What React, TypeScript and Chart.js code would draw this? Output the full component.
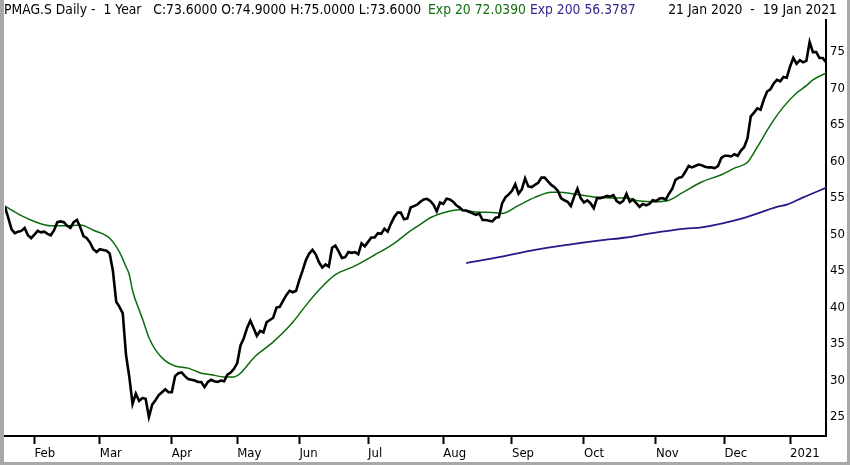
import React, { useEffect, useRef } from "react";
import { Chart, registerables } from "chart.js";

Chart.register(...registerables);

// Daily closes, 21 Jan 2020 .. 19 Jan 2021 (trading-day index 0..251)
const closePrices = [
  53.8, 52.3, 50.7, 50.2, 50.4, 50.5, 50.9, 49.9, 49.5, 50.0,
  50.5, 50.3, 50.4, 50.1, 49.9, 50.6, 51.7, 51.8, 51.7, 51.2,
  50.9, 51.7, 52.0, 51.0, 49.8, 49.5, 48.9, 48.0, 47.6, 48.0,
  47.9, 47.8, 47.4, 45.0, 40.8, 40.1, 39.2, 33.5, 30.5, 26.8,
  28.2, 27.2, 27.6, 27.5, 25.0, 26.7, 27.3, 28.0, 28.4, 28.8,
  28.4, 28.4, 30.6, 31.0, 31.1, 30.6, 30.2, 30.1, 30.0, 29.8,
  29.8, 29.1, 29.8, 30.1, 29.9, 29.8, 30.0, 29.9, 30.8, 31.1,
  31.6, 32.4, 34.8, 35.8, 37.2, 38.2, 37.2, 36.1, 36.8, 36.6,
  38.0, 38.3, 38.6, 40.0, 40.1, 40.9, 41.7, 42.3, 42.1, 42.3,
  43.8, 45.1, 46.5, 47.4, 47.9, 47.3, 46.2, 45.5, 45.9, 45.6,
  48.2, 48.5, 47.7, 46.8, 46.9, 47.6, 47.5, 47.6, 47.3, 48.8,
  48.4, 49.0, 49.6, 49.6, 50.2, 50.1, 50.8, 50.4, 51.5, 52.4,
  53.0, 53.0, 52.1, 52.2, 53.7, 53.9, 54.1, 54.5, 54.8, 54.9,
  54.6, 54.1, 53.2, 54.4, 54.2, 54.9, 54.8, 54.5, 54.0, 53.7,
  53.3, 53.3, 53.1, 52.9, 52.7, 52.9, 52.0, 52.0, 51.9, 51.8,
  52.3, 52.4, 54.3, 55.1, 55.5, 56.0, 56.9, 55.6, 56.2, 57.7,
  56.6, 56.5, 56.8, 57.1, 57.8, 57.8, 57.3, 56.8, 56.5, 56.0,
  55.0, 54.7, 54.5, 53.9, 55.2, 56.3, 55.0, 54.4, 54.7, 54.3,
  53.6, 55.0, 55.0, 55.1, 55.3, 55.2, 55.4, 54.6, 54.3, 54.6,
  55.6, 54.5, 54.8, 54.3, 53.8, 54.2, 54.0, 54.2, 54.7, 54.6,
  54.9, 55.0, 54.8, 55.6, 56.3, 57.5, 57.8, 57.9, 58.6, 59.4,
  59.2, 59.4, 59.6, 59.5, 59.3, 59.2, 59.2, 59.1, 59.4, 60.5,
  60.8, 60.8, 60.7, 61.0, 60.8, 61.5, 62.0, 63.2, 66.2, 66.7,
  67.3, 67.1, 68.5, 69.6, 69.9, 70.7, 71.2, 71.0, 71.6, 71.5,
  73.0, 74.2, 73.4, 73.9, 73.6, 73.8, 76.4, 75.0, 75.0, 74.2,
  74.2, 73.6,
];

// Exp 20 (at these trading-day indices)
const ema20Idx = [
  0, 5, 9, 14, 19, 23, 27, 32, 35, 37, 38, 39, 41, 42, 44, 46, 49, 52, 56, 60,
  63, 67, 70, 72, 76, 82, 88, 92, 96, 101, 107, 113, 119, 123, 127, 130, 134,
  139, 144, 150, 152, 157, 162, 167, 169, 175, 181, 187, 190, 194, 199, 203,
  207, 213, 219, 223, 227, 230, 234, 238, 242, 245, 247, 251,
];
const ema20Vals = [
  53.9, 52.6, 51.8, 51.2, 51.2, 51.3, 50.6, 49.5, 47.6, 45.6, 44.5, 42.3, 39.7,
  38.5, 35.9, 34.2, 32.7, 32.0, 31.7, 31.0, 30.8, 30.5, 30.5, 31.0, 33.1, 35.3,
  38.0, 40.3, 42.4, 44.5, 45.7, 47.2, 48.8, 50.2, 51.4, 52.3, 53.0, 53.4, 53.1,
  53.0, 52.9, 54.0, 55.1, 55.8, 55.8, 55.5, 55.1, 55.0, 55.0, 54.6, 54.5, 54.7,
  55.7, 57.2, 58.2, 59.1, 59.9, 62.0, 65.0, 67.5, 69.4, 70.4, 71.2, 72.1,
];

// Exp 200
const ema200Idx = [141, 151, 162, 172, 182, 190, 198, 208, 213, 226, 236, 239, 244, 251];
const ema200Vals = [46.1, 46.9, 47.9, 48.6, 49.2, 49.6, 50.2, 50.8, 51.0, 52.3, 53.8, 54.1, 55.1, 56.4];

const monthTickIdx = [9, 29, 51, 71, 90, 111, 134, 155, 177, 199, 220, 240];
const monthTickLabels = ["Feb", "Mar", "Apr", "May", "Jun", "Jul", "Aug", "Sep", "Oct", "Nov", "Dec", "2021"];
const yTickValues = [25, 30, 35, 40, 45, 50, 55, 60, 65, 70, 75];

const headerLeft = "PMAG.S Daily -  1 Year   C:73.6000 O:74.9000 H:75.0000 L:73.6000";
const headerEma20 = "Exp 20 72.0390";
const headerEma200 = "Exp 200 56.3787";
const headerDates = "21 Jan 2020  -  19 Jan 2021";

const W = 850;
const H = 465;
const AXIS_FONT = "'DejaVu Sans Condensed', 'DejaVu Sans', sans-serif";
const HEADER_FONT = "'DejaVu Sans', sans-serif";

export default function App() {
  const canvasRef = useRef<HTMLCanvasElement | null>(null);

  useEffect(() => {
    const canvas = canvasRef.current;
    if (!canvas) return;
    const chart = new Chart(canvas, {
      type: "line",
      data: {
        datasets: [
          {
            label: "Close",
            data: closePrices.map((v, i) => ({ x: i, y: v })),
            borderColor: "#000000",
            borderWidth: 2.6,
            pointRadius: 0,
            tension: 0,
          },
          {
            label: "Exp 20",
            data: ema20Idx.map((x, i) => ({ x, y: ema20Vals[i] })),
            borderColor: "#0b6b0b",
            borderWidth: 1.5,
            pointRadius: 0,
            cubicInterpolationMode: "monotone",
          },
          {
            label: "Exp 200",
            data: ema200Idx.map((x, i) => ({ x, y: ema200Vals[i] })),
            borderColor: "#2a1888",
            borderWidth: 1.8,
            pointRadius: 0,
            cubicInterpolationMode: "monotone",
          },
        ],
      },
      options: {
        animation: false,
        responsive: false,
        maintainAspectRatio: false,
        layout: { padding: { left: 5, top: 20, right: 0, bottom: 0 } },
        plugins: {
          legend: { display: false },
          tooltip: { enabled: false },
          title: { display: false },
        },
        scales: {
          x: {
            type: "linear",
            min: 0,
            max: closePrices.length - 1,
            offset: false,
            afterBuildTicks: (scale: any) => {
              scale.ticks = monthTickIdx.map((v) => ({ value: v }));
            },
            afterFit: (scale: any) => {
              scale.height = H - 436;
            },
            grid: {
              display: true,
              drawOnChartArea: false,
              drawTicks: true,
              tickLength: 8,
              tickWidth: 2,
              tickColor: "#000000",
            },
            border: { display: true, color: "#000000", width: 2 },
            ticks: {
              autoSkip: false,
              maxRotation: 0,
              minRotation: 0,
              align: "start",
              padding: 2,
              color: "#000000",
              font: { family: AXIS_FONT, size: 13 },
              callback: (value: any) => {
                const k = monthTickIdx.indexOf(Number(value));
                return k >= 0 ? monthTickLabels[k] : "";
              },
            },
          },
          y: {
            type: "linear",
            position: "right",
            min: 22.4,
            max: 79.4,
            afterBuildTicks: (scale: any) => {
              scale.ticks = yTickValues.map((v) => ({ value: v }));
            },
            afterFit: (scale: any) => {
              scale.width = W - 826;
            },
            grid: { display: true, drawOnChartArea: false, drawTicks: false },
            border: { display: true, color: "#000000", width: 2 },
            ticks: {
              padding: 4,
              color: "#000000",
              font: { family: AXIS_FONT, size: 13 },
              callback: (value: any) => String(value),
            },
          },
        },
      },
    });
    return () => chart.destroy();
  }, []);

  const headerFont: React.CSSProperties = {
    position: "absolute",
    top: 1,
    fontFamily: HEADER_FONT,
    fontSize: 12.4,
    whiteSpace: "pre",
    lineHeight: "14px",
    transform: "scaleY(1.15)",
    transformOrigin: "top left",
  };

  return (
    <div
      style={{
        position: "fixed",
        left: 0,
        top: 0,
        width: W,
        height: H,
        background: "#ffffff",
        overflow: "hidden",
      }}
    >
      <canvas
        ref={canvasRef}
        width={W}
        height={H}
        style={{ position: "absolute", left: 0, top: 0, width: W, height: H }}
      />
      <div style={{ ...headerFont, left: 4, color: "#000000" }}>{headerLeft}</div>
      <div style={{ ...headerFont, left: 428 }}>
        <span style={{ color: "#107010" }}>{headerEma20}</span>
        <span> </span>
        <span style={{ color: "#3a2490" }}>{headerEma200}</span>
      </div>
      <div style={{ ...headerFont, left: "auto", right: 13, transformOrigin: "top right", color: "#000000" }}>
        {headerDates}
      </div>
      <div style={{ position: "absolute", left: 0, top: 0, width: 4, height: H, background: "#a8a8a8" }} />
      <div style={{ position: "absolute", left: 847, top: 0, width: 3, height: H, background: "#a8a8a8" }} />
      <div style={{ position: "absolute", left: 0, top: 462, width: W, height: 3, background: "#a8a8a8" }} />
    </div>
  );
}
